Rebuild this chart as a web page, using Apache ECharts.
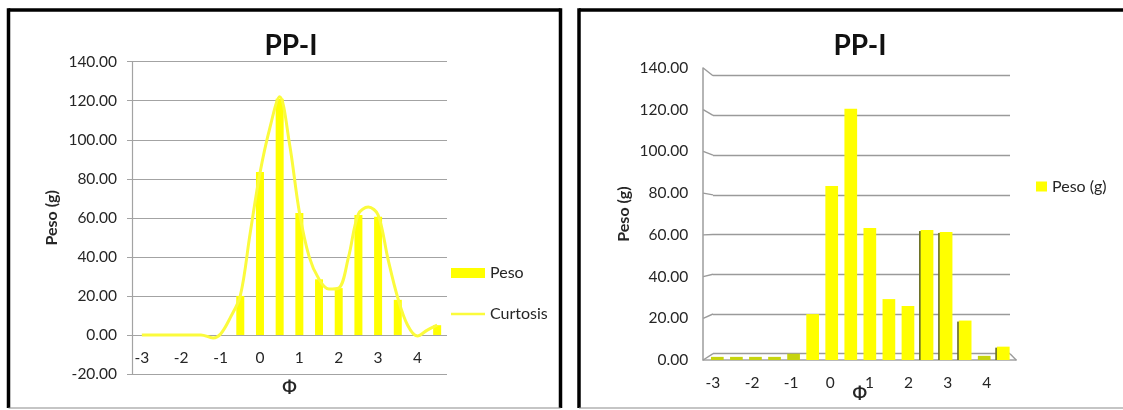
<!DOCTYPE html>
<html><head><meta charset="utf-8">
<style>html,body{margin:0;padding:0;background:#fff}#c{width:1123px;height:410px}</style>
<script src="https://cdn.jsdelivr.net/npm/echarts@6/dist/echarts.min.js"></script>
</head><body><div id="c"></div>
<script>
const phiCategories = [-3,-2.5,-2,-1.5,-1,-0.5,0,0.5,1,1.5,2,2.5,3,3.5,4,4.5];
const pesoLeft  = [0,0,0,0,0,20,83.5,121,62.5,28.5,24,61.5,60.5,18,0,5];
const pesoRight = [1.5,1.5,1.5,1.5,3,22,83.4,120.5,63.3,29.2,25.9,62.3,61.4,18.9,2,6.4];
const darkEdgeCategories = [2.5,3,3.5,4.5];
const curtosisPhi = [-3,-2.5,-2,-1.5,-1.19,-1,-0.75,-0.5,-0.25,0,0.25,0.5,0.75,1,1.25,1.5,1.75,2,2.25,2.5,2.75,3,3.25,3.5,3.75,4,4.25,4.5];
const curtosisVal = [0,0,0,0,-1.5,0.5,9,20,52,83,106,122,98,63,40,28.5,23.5,24,40,62,65.5,61.5,39,19,5,-0.5,2.5,5];
const titleText = 'PP-I';
const yName = 'Peso (g)';
const xName = 'Φ';
const font = 'Lato';
const txt = '#262626';
const gridGrey = '#a3a3a3';
const f2 = v => v.toFixed(2);

const chart = echarts.init(document.getElementById('c'), null, {renderer:'canvas'});
const nameStyle = {fontFamily:font,fontWeight:'bold',color:txt,fontSize:16};
const valLabel = {fontFamily:font,fontSize:15.5,color:txt,formatter:f2};
const catLabel = {fontFamily:font,fontSize:15.5,color:txt,interval:1};
const thinLine = 'path://M0,0L100,0L100,0Z M0,37H100V63H0Z M0,100L100,100L100,100Z';
chart.setOption({
  animation:false,
  backgroundColor:'#fff',
  title:[
    {text:titleText,left:286,top:27,textAlign:'center',textStyle:{fontFamily:font,fontWeight:'bold',fontSize:28,color:'#111'}},
    {text:titleText,left:855,top:27,textAlign:'center',textStyle:{fontFamily:font,fontWeight:'bold',fontSize:28,color:'#111'}}
  ],
  legend:[
    {orient:'vertical',left:451,top:265,padding:0,itemWidth:34,itemHeight:10,itemGap:25,symbolKeepAspect:false,
     data:[{name:'Peso',icon:'rect'},{name:'Curtosis',icon:thinLine}],
     textStyle:{fontFamily:font,fontSize:16,color:txt}},
    {orient:'vertical',left:1036,top:178.5,padding:0,itemWidth:11,itemHeight:10,
     data:[{name:'Peso (g)',icon:'rect',itemStyle:{color:'#ffff00'}}],
     textStyle:{fontFamily:font,fontSize:16,color:txt}}
  ],
  grid:[
    {left:132,top:61.7,width:315,height:312.3,outerBoundsMode:'none'},
    {left:703.2,top:68,width:313,height:292,outerBoundsMode:'none'},
    {left:713,top:75.7,width:297,height:278,outerBoundsMode:'none'},
    {left:707.8,top:68,width:305,height:292,outerBoundsMode:'none'}
  ],
  xAxis:[
    {type:'category',gridIndex:0,data:phiCategories,
     axisTick:{show:false},axisLine:{show:false,onZero:false},
     axisLabel:Object.assign({margin:-24},catLabel),
     name:xName,nameLocation:'middle',nameGap:5,nameMoveOverlap:false,nameTextStyle:Object.assign({},nameStyle,{fontSize:17})},
    {type:'value',gridIndex:0,min:-3.25,max:4.75,show:false},
    {type:'category',gridIndex:1,data:phiCategories,
     axisTick:{show:false},axisLine:{lineStyle:{color:gridGrey,width:1.6}},
     axisLabel:Object.assign({margin:15},catLabel),
     name:xName,nameLocation:'middle',nameGap:25,nameMoveOverlap:false,nameTextStyle:Object.assign({},nameStyle,{fontSize:17})},
    {type:'category',gridIndex:2,data:phiCategories,show:false},
    {type:'category',gridIndex:3,data:phiCategories,show:false}
  ],
  yAxis:[
    {type:'value',gridIndex:0,min:-20,max:140,interval:20,
     axisLine:{show:true,onZero:false,lineStyle:{color:gridGrey,width:1.2}},
     axisTick:{show:true,length:5,lineStyle:{color:gridGrey}},
     splitLine:{show:true,lineStyle:{color:gridGrey,width:1.2}},
     axisLabel:Object.assign({margin:15},valLabel),
     name:yName,nameLocation:'middle',nameGap:72,nameTextStyle:nameStyle},
    {type:'value',gridIndex:1,min:0,max:140,interval:20,
     axisLine:{show:true,lineStyle:{color:gridGrey,width:1.6}},
     axisTick:{show:false},splitLine:{show:false},
     axisLabel:Object.assign({margin:15},valLabel),
     name:yName,nameLocation:'middle',nameGap:71,nameTextStyle:nameStyle},
    {type:'value',gridIndex:2,min:0,max:140,interval:20,show:true,
     axisLine:{show:false},axisTick:{show:false},axisLabel:{show:false},
     splitLine:{show:true,lineStyle:{color:'#9a9a9a',width:1.4}}},
    {type:'value',gridIndex:3,min:0,max:140,show:false}
  ],
  series:[
    {name:'Peso',type:'bar',xAxisIndex:0,yAxisIndex:0,data:pesoLeft,barWidth:8,itemStyle:{color:'#ffff00'},z:3},
    {name:'Curtosis',type:'line',xAxisIndex:1,yAxisIndex:0,data:curtosisPhi.map((x,i)=>[x,curtosisVal[i]]),
     smooth:0.35,symbol:'none',lineStyle:{color:'#fbfb3c',width:3},itemStyle:{color:'#fbfb3c'},z:4},
    {name:'Peso (g)',type:'bar',xAxisIndex:4,yAxisIndex:3,data:pesoRight,barWidth:12.7,
     itemStyle:{color:p=>p.value<5?'#c6d40e':'#ffff00'},z:4},
    {type:'custom',xAxisIndex:4,yAxisIndex:3,silent:true,z:3,
     data:darkEdgeCategories.map(c=>{const i=phiCategories.indexOf(c);return [i,pesoRight[i]];}),
     renderItem:(params,api)=>{
       const top=api.coord([api.value(0),api.value(1)]);
       const base=api.coord([api.value(0),0]);
       return {type:'rect',shape:{x:top[0]-8,y:top[1]+1,width:2,height:base[1]-top[1]-1},style:{fill:'#6d7228'}};
     }}
  ]
});

const backTicks=[0,20,40,60,80,100,120,140];
const axisX=703.2, wallX=713, floorFrontEnd=1016.2, wallEnd=1010;
const seg=(x1,y1,x2,y2,color,w)=>({type:'line',silent:true,z:1,shape:{x1,y1,x2,y2},style:{stroke:color,lineWidth:w}});
const frame=(l,t,r,b)=>[
  seg(l,t,r,t,'#000',3.5),seg(l,t-1.7,l,b,'#000',3.5),
  ...(r<1123?[seg(r,t-1.7,r,b,'#000',3.5)]:[]),
  seg(l,b,r,b,'#8c8c8c',1.2)
];
const slants=backTicks.map(v=>seg(axisX,chart.convertToPixel({yAxisIndex:1},v),wallX,chart.convertToPixel({yAxisIndex:2},v),'#9a9a9a',1.4));
const zeroFront=chart.convertToPixel({yAxisIndex:1},0), zeroBack=chart.convertToPixel({yAxisIndex:2},0);
chart.setOption({graphic:{elements:[
  ...frame(8.5,10,560.5,408),
  ...frame(579,10,1124,408),
  ...slants,
  seg(floorFrontEnd,zeroFront,wallEnd,zeroBack,'#9a9a9a',1.4)
]}});
</script></body></html>
